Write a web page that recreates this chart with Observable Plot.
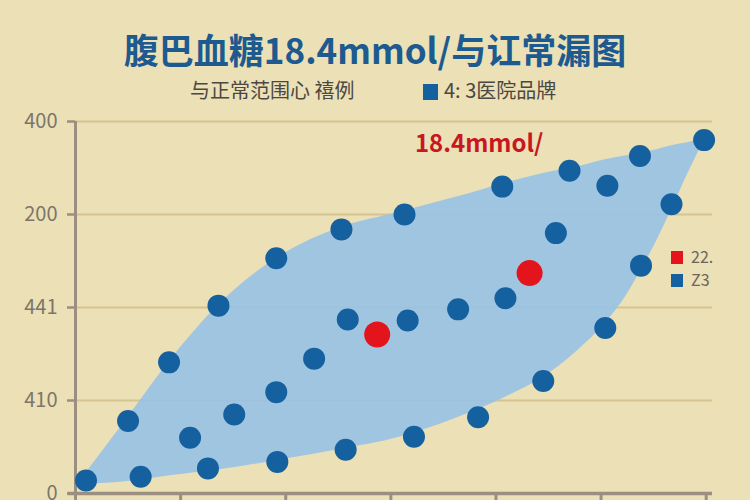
<!DOCTYPE html>
<html>
<head>
<meta charset="utf-8">
<script src="https://cdn.jsdelivr.net/npm/d3@7"></script>
<script src="https://cdn.jsdelivr.net/npm/@observablehq/plot@0.6"></script>
<style>
  html, body { margin: 0; padding: 0; }
  body { width: 750px; height: 500px; overflow: hidden; position: relative; background: #ebe0b6; font-family: "Noto Sans CJK SC", "Noto Sans", sans-serif; }
  .abs { position: absolute; white-space: nowrap; }
  #title { top: 27px; left: 0; width: 750px; text-align: center; font-size: 35px; font-weight: bold; color: #1c5a8f; line-height: 44px; }
  #sub1 { left: 190px; top: 78px; font-size: 20px; color: #4b4842; line-height: 24px; }
  #sub2 { left: 423px; top: 78px; font-size: 20px; color: #4b4842; line-height: 24px; }
  .sq { display: inline-block; width: 15px; height: 16px; vertical-align: -2px; margin-right: 6px; }
  #legend { left: 671px; top: 245px; font-size: 16px; color: #6b665c; line-height: 23px; }
  #legend .sq { width: 12px; height: 13px; margin-right: 8px; vertical-align: -1px; }
  #chart { position: absolute; left: 0; top: 105px; }
</style>
</head>
<body>
<div id="title" class="abs"></div>
<div id="sub1" class="abs"></div>
<div id="sub2" class="abs"></div>
<div id="legend" class="abs"></div>
<div id="chart"></div>
<script>
// ---- text ----
const titleText = "腹巴血糖18.4mmol/与讧常漏图";
const subtitleLeft = "与正常范围心 禧例";
const subtitleRight = "4: 3医院品牌";
const annotationText = "18.4mmol/";
const legendLabels = ["22.", "Z3"];
const legendColors = ["#e3141b", "#15609f"];

// ---- axes ----
const yTickValues = [0, 100, 200, 300, 400];
const yTickLabels = ["0", "410", "441", "200", "400"];
const xTickValues = [0, 1, 2, 3, 4, 5, 6];

// ---- scatter points (blue) ----
const dotX = [0.10, 0.50, 0.62, 0.89, 1.09, 1.26, 1.36, 1.51, 1.91, 1.91, 1.92, 2.27, 2.53, 2.59, 2.57,
              3.13, 3.16, 3.22, 3.64, 3.83, 4.06, 4.09, 4.45, 4.57, 4.70, 5.06, 5.04, 5.37, 5.38, 5.67, 5.98];
const dotY = [14, 78, 18, 141, 60, 27, 202, 85, 253, 109, 34, 145, 284, 187, 47,
              300, 186, 61, 198, 82, 330, 210, 121, 280, 347, 331, 178, 363, 245, 311, 380];

// ---- highlighted points (red) ----
const redX = [2.87, 4.32];
const redY = [171, 237];

// ---- shaded normal band ----
const bandX    = [0.10, 0.50, 0.90, 1.40, 2.00, 2.50, 3.10, 3.60, 4.10, 4.45, 4.76, 5.04, 5.23, 5.38, 5.54, 5.67, 5.81, 5.93, 6.00];
const bandLow  = [10,   13,   19,   26,   37,   47,   61,   80,   104,  125,  152,  183,  211,  240,  274,  305,  340,  368,  383];
const bandHigh = [22,   82,   143,  207,  259,  285,  303,  318,  334,  344,  351,  359,  363,  366,  370,  374,  377,  380,  383];

// ---- build ----
document.getElementById("title").textContent = titleText;
document.getElementById("sub1").textContent = subtitleLeft;
document.getElementById("sub2").innerHTML = `<span class="sq" style="background:#15609f"></span>` + subtitleRight;
document.getElementById("legend").innerHTML = legendLabels.map((l, i) =>
  `<div><span class="sq" style="background:${legendColors[i]}"></span>${l}</div>`).join("");

const dots = dotX.map((x, i) => ({x, y: dotY[i]}));
const reds = redX.map((x, i) => ({x, y: redY[i]}));
const band = bandX.map((x, i) => ({x, lo: bandLow[i], hi: bandHigh[i]}));

const axisGray = "#9a8f80";
const chart = Plot.plot({
  width: 750,
  height: 400,
  marginLeft: 75,
  marginRight: 38,
  marginTop: 16,
  marginBottom: 12,
  style: {background: "transparent", fontFamily: "'Noto Sans CJK SC', 'Noto Sans', sans-serif", overflow: "visible"},
  x: {domain: [0, 6.06], axis: null},
  y: {domain: [0, 400], axis: null},
  marks: [
    Plot.ruleY(yTickValues.slice(1), {stroke: "#d5c390", strokeWidth: 2}),
    Plot.areaY(band, {x: "x", y1: "lo", y2: "hi", curve: "monotone-x", fill: "#98c2e5", fillOpacity: 0.9}),
    Plot.ruleX([0], {y1: 0, y2: 400, stroke: axisGray, strokeWidth: 3}),
    Plot.ruleY([0], {x1: -0.07, x2: 6.06, stroke: axisGray, strokeWidth: 3.5}),
    Plot.axisY({ticks: yTickValues, tickFormat: d => yTickLabels[yTickValues.indexOf(d)], tickSize: 8, tickPadding: 10,
                stroke: axisGray, strokeWidth: 2.5, fontSize: 20, fill: "#7c766a", label: null}),
    Plot.axisX({ticks: xTickValues, tickFormat: () => "", tickSize: 12, stroke: axisGray, strokeWidth: 3, label: null}),
    Plot.dot(dots, {x: "x", y: "y", r: 11, fill: "#15609f"}),
    Plot.dot(reds, {x: "x", y: "y", r: 13, fill: "#e3141b"}),
    Plot.text([annotationText], {x: 3.84, y: 376, text: d => d, fontSize: 24, fontWeight: "bold", fill: "#c8171e"})
  ]
});
document.getElementById("chart").appendChild(chart);
</script>
</body>
</html>
